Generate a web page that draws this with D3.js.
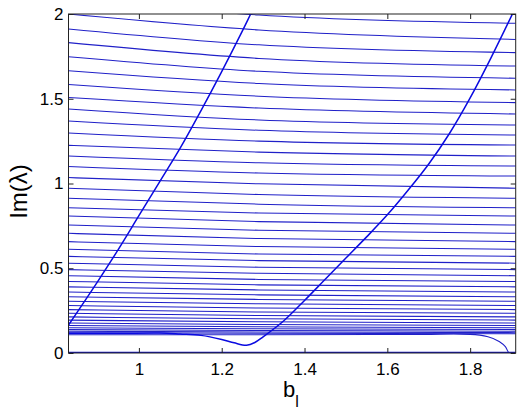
<!DOCTYPE html>
<html>
<head>
<meta charset="utf-8">
<script src="https://cdn.jsdelivr.net/npm/d3@7"></script>
<style>
  body { margin: 0; background: #fff; }
  svg { display: block; font-family: "Liberation Sans", Arial, Helvetica, sans-serif; }
</style>
</head>
<body>
<div id="chart"></div>
<script>
// b_l positions where each flat branch was read (left edge, middle, right edge)
const branchB = [0.83, 1.29, 1.91];

// Im(lambda) of the flat branches at those three b_l positions
const branchLeft = [2.090, 2.000, 1.912, 1.831, 1.748, 1.665, 1.584, 1.507, 1.440, 1.369,
  1.298, 1.225, 1.162, 1.100, 1.035, 0.972, 0.913, 0.857, 0.808, 0.755,
  0.706, 0.657, 0.612, 0.570, 0.530, 0.492, 0.456, 0.422, 0.390, 0.360,
  0.332, 0.305, 0.280, 0.256, 0.234, 0.213, 0.194, 0.177, 0.162, 0.149,
  0.138, 0.128, 0.120];
const branchMid = [1.994, 1.906, 1.818, 1.738, 1.662, 1.590, 1.515, 1.445, 1.375, 1.314,
  1.250, 1.185, 1.122, 1.062, 0.998, 0.935, 0.878, 0.826, 0.775, 0.724,
  0.675, 0.628, 0.584, 0.545, 0.506, 0.470, 0.434, 0.402, 0.372, 0.343,
  0.316, 0.290, 0.265, 0.242, 0.221, 0.202, 0.184, 0.168, 0.155, 0.143,
  0.133, 0.124, 0.117];
const branchRight = [1.945, 1.850, 1.772, 1.693, 1.621, 1.552, 1.477, 1.410, 1.345, 1.286,
  1.227, 1.162, 1.103, 1.044, 0.972, 0.913, 0.857, 0.808, 0.755, 0.706,
  0.657, 0.612, 0.570, 0.530, 0.492, 0.456, 0.422, 0.390, 0.360, 0.332,
  0.305, 0.280, 0.256, 0.234, 0.213, 0.194, 0.177, 0.162, 0.149, 0.138,
  0.128, 0.120, 0.114];

// steep branch on the left
const steep1B  = [0.83, 0.90, 0.95, 1.00, 1.05, 1.10, 1.15, 1.20, 1.25, 1.27, 1.29];
const steep1Im = [0.165, 0.420, 0.610, 0.810, 1.010, 1.210, 1.430, 1.660, 1.900, 2.000, 2.100];

// branch that dips near 1.26 and then climbs to the top right
const steep2B  = [0.83, 0.95, 1.05, 1.10, 1.15, 1.20, 1.23, 1.26, 1.28, 1.30, 1.35, 1.40, 1.45,
  1.50, 1.55, 1.60, 1.65, 1.70, 1.75, 1.80, 1.85, 1.91];
const steep2Im = [0.116, 0.116, 0.118, 0.112, 0.104, 0.080, 0.060, 0.046, 0.062, 0.095, 0.190, 0.310, 0.435,
  0.560, 0.685, 0.815, 0.960, 1.115, 1.295, 1.505, 1.740, 2.040];

// lowest branch bending down to zero at the right
const lowB  = [0.83, 1.20, 1.70, 1.76, 1.80, 1.843, 1.87, 1.885, 1.895, 1.91];
const lowIm = [0.108, 0.108, 0.110, 0.112, 0.110, 0.096, 0.068, 0.038, 0.0, 0.0];

// real eigenvalues
const zeroB  = [0.83, 1.91];
const zeroIm = [0, 0];

const xTicks = [1, 1.2, 1.4, 1.6, 1.8];
const yTicks = [0, 0.5, 1, 1.5, 2];

const width = 518, height = 414;
const margin = {top: 14, right: 2.3, bottom: 61, left: 68.5};

const svg = d3.select("#chart").append("svg")
  .attr("width", width)
  .attr("height", height);

const x = d3.scaleLinear().domain([0.83, 1.91]).range([margin.left, width - margin.right]);
const y = d3.scaleLinear().domain([0, 2]).range([height - margin.bottom, margin.top]);

svg.append("clipPath").attr("id", "plotclip")
  .append("rect")
  .attr("x", x(0.83)).attr("y", y(2))
  .attr("width", x(1.91) - x(0.83)).attr("height", y(0) - y(2));

const plot = svg.append("g").attr("clip-path", "url(#plotclip)");

const line = d3.line()
  .x(d => x(d[0]))
  .y(d => y(d[1]))
  .curve(d3.curveMonotoneX);

const smooth = d3.line()
  .x(d => x(d[0]))
  .y(d => y(d[1]))
  .curve(d3.curveCatmullRom.alpha(0.5));

// flat branches
branchLeft.forEach((v, i) => {
  const pts = [[branchB[0], v], [branchB[1], branchMid[i]], [branchB[2], branchRight[i]]];
  plot.append("path")
    .attr("d", line(pts))
    .attr("fill", "none")
    .attr("stroke", "#2020c8")
    .attr("stroke-width", 1.05);
});

plot.append("path")
  .attr("d", line(d3.zip(lowB, lowIm)))
  .attr("fill", "none")
  .attr("stroke", "#2020c8")
  .attr("stroke-width", 1.05);

plot.append("path")
  .attr("d", smooth(d3.zip(steep1B, steep1Im)))
  .attr("fill", "none")
  .attr("stroke", "#0a0ae0")
  .attr("stroke-width", 1.5);

plot.append("path")
  .attr("d", smooth(d3.zip(steep2B, steep2Im)))
  .attr("fill", "none")
  .attr("stroke", "#0a0ae0")
  .attr("stroke-width", 1.5);

plot.append("path")
  .attr("d", line(d3.zip(zeroB, zeroIm)))
  .attr("fill", "none")
  .attr("stroke", "#1010c8")
  .attr("stroke-width", 2.5);

// axes, ticks inside like the original
const xAxis = svg.append("g")
  .attr("transform", `translate(0, ${y(0)})`)
  .call(d3.axisBottom(x).tickValues(xTicks).tickSizeInner(-5).tickSizeOuter(0).tickPadding(10)
    .tickFormat(d3.format("")));
const xAxisTop = svg.append("g")
  .attr("transform", `translate(0, ${y(2)})`)
  .call(d3.axisTop(x).tickValues(xTicks).tickSizeInner(-5).tickSizeOuter(0).tickFormat(""));
const yAxis = svg.append("g")
  .attr("transform", `translate(${x(0.83)}, 0)`)
  .call(d3.axisLeft(y).tickValues(yTicks).tickSizeInner(-5).tickSizeOuter(0).tickPadding(5)
    .tickFormat(d3.format("")));
const yAxisRight = svg.append("g")
  .attr("transform", `translate(${x(1.91)}, 0)`)
  .call(d3.axisRight(y).tickValues(yTicks).tickSizeInner(-5).tickSizeOuter(0).tickFormat(""));

[xAxis, xAxisTop, yAxis, yAxisRight].forEach(g => {
  g.select(".domain").remove();
  g.selectAll("line").attr("stroke", "#222");
  g.selectAll("text").attr("font-size", 17).attr("fill", "#000")
    .attr("font-family", "'Liberation Sans', Arial, sans-serif");
});

svg.append("rect")
  .attr("x", x(0.83)).attr("y", y(2))
  .attr("width", x(1.91) - x(0.83)).attr("height", y(0) - y(2))
  .attr("fill", "none")
  .attr("stroke", "#222")
  .attr("stroke-width", 1);

// labels
svg.append("text")
  .attr("transform", `translate(27, ${(y(0) + y(2)) / 2 + 8}) rotate(-90)`)
  .attr("text-anchor", "middle")
  .attr("font-size", 24)
  .text("Im(λ)");

const xl = svg.append("text")
  .attr("x", 283)
  .attr("y", 397)
  .attr("font-size", 22);
xl.append("tspan").text("b");
xl.append("tspan").attr("font-size", 16).attr("dy", 10).text("l");
</script>
</body>
</html>
